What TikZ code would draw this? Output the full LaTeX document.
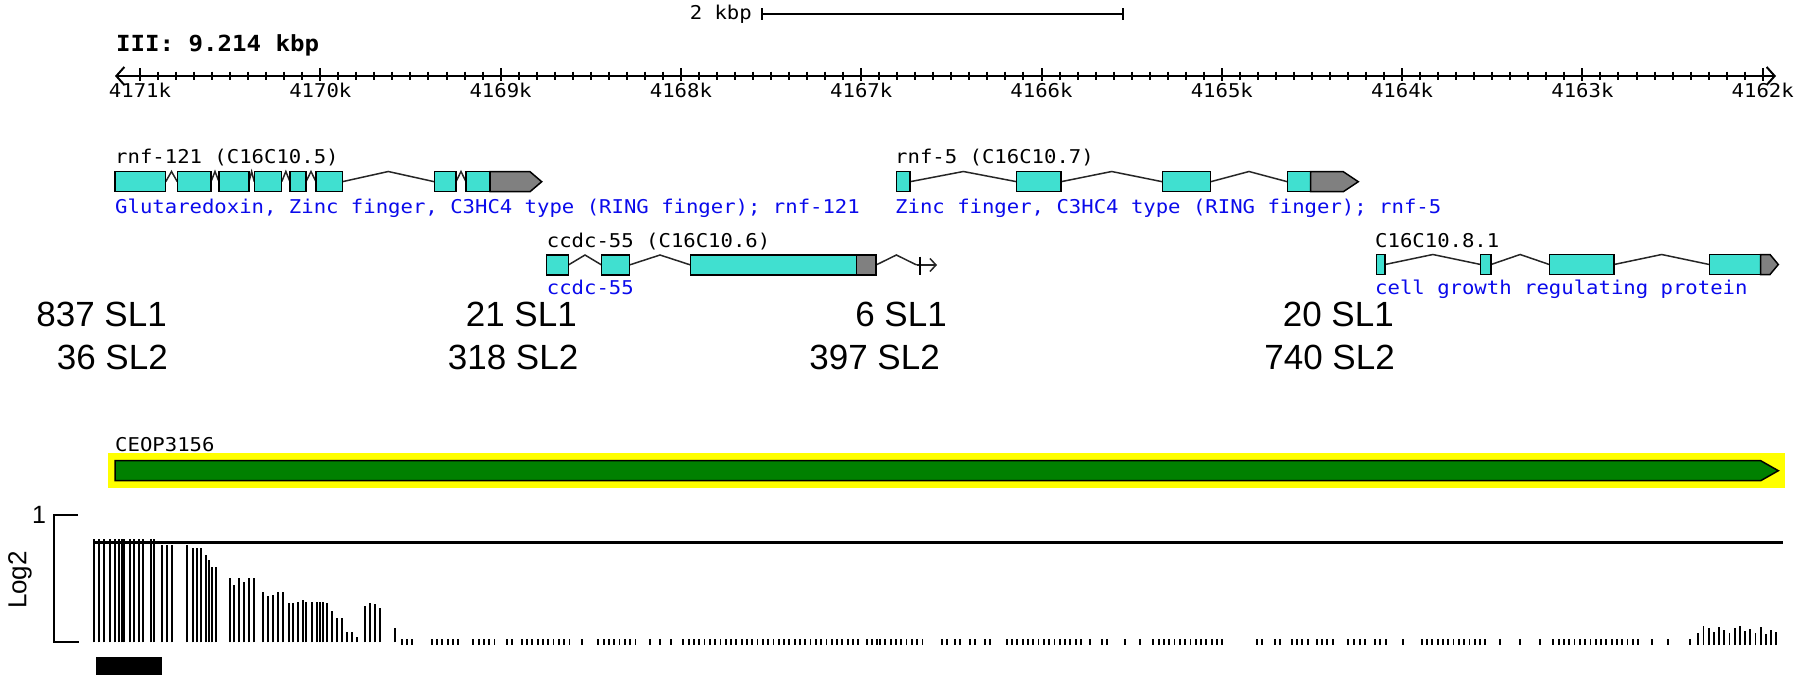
\documentclass[tikz,border=0pt]{standalone}
\usepackage{fontspec}
\setmainfont{Liberation Sans}
\newfontfamily\gbmono[FakeStretch=1.085]{DejaVu Sans Mono}
\usetikzlibrary{arrows.meta}

\definecolor{exoncol}{RGB}{64,224,208}
\definecolor{utrcol}{RGB}{128,128,128}
\definecolor{desccol}{RGB}{10,10,235}
\definecolor{opcol}{RGB}{0,128,0}
\definecolor{hilite}{RGB}{255,255,0}

\tikzset{
    lbl/.style={font=\gbmono\fontsize{19}{23}\selectfont, inner sep=0pt, anchor=base west},
    desc/.style={lbl, text=desccol},
    sl/.style={font=\fontsize{35}{40}\selectfont, inner sep=0pt, anchor=base east},
    axisline/.style={draw=black, line width=2pt},
    exon/.style={draw=black, fill=exoncol, line width=1.5pt},
    utr/.style={draw=black, fill=utrcol, line width=1.5pt},
    intron/.style={draw=black!85, line width=1.5pt},
    operon/.style={draw=black, fill=opcol, line width=1.5pt},
    bar/.style={draw=black, line width=1.8pt},
}

\begin{document}
\begin{tikzpicture}[x=1pt, y=-1pt]
    \useasboundingbox (0,0) rectangle (1800,689);

    % Scale bar
    \coordinate (sbL) at (762,14);
    \coordinate (sbR) at (1122.6,14);
    \node[lbl, anchor=base east] (sbtext) at (752,19) {2 kbp};
    \draw[axisline] (sbL) -- (sbR);
    \draw[axisline] (762,8) -- (762,20);
    \draw[axisline] (1122.6,8) -- (1122.6,20);

    % Ruler
    \node[lbl, font=\gbmono\bfseries\fontsize{22.2}{26}\selectfont] (chrom) at (116,51.7) {III: 9.214 kbp};
    \coordinate (rulerL) at (115,76);
    \coordinate (rulerR) at (1776,76);
    \draw[axisline, {Straight Barb[length=8pt,width=18pt]}-{Straight Barb[length=8pt,width=18pt]}] (rulerL) -- (rulerR);
    \foreach \i in {0,...,90}
        \draw[axisline] (140+18.03*\i,71.5) -- (140+18.03*\i,80);
    \foreach \i/\lab in {0/4171k, 1/4170k, 2/4169k, 3/4168k, 4/4167k, 5/4166k, 6/4165k, 7/4164k, 8/4163k, 9/4162k} {
        \draw[axisline] (140+180.3*\i,68) -- (140+180.3*\i,81);
        \node[lbl, anchor=base] (tick\i) at (140+180.3*\i,97.5) {\lab};
    }

    % Gene rnf-121
    \node[lbl] (g1name) at (115,163.5) {rnf-121 (C16C10.5)};
    \foreach \a/\b in {165.7/177.3, 211/219, 249/254.3, 281.7/290, 306/316, 342.3/434.3, 456/466}
        \draw[intron] (\a,181.7) -- ({(\a+\b)/2},171.5) -- (\b,181.7);
    \foreach \a/\b in {115/165.7, 177.3/211, 219/249, 254.3/281.7, 290/306, 316/342.3, 434.3/456, 466/490}
        \draw[exon] (\a,171.7) rectangle (\b,191.7);
    \draw[utr] (490,171.7) -- (530,171.7) -- (541.7,181.7) -- (530,191.7) -- (490,191.7) -- cycle;
    \node[desc] (g1desc) at (115,213.5) {Glutaredoxin, Zinc finger, C3HC4 type (RING finger); rnf-121};

    % Gene rnf-5
    \node[lbl] (g2name) at (895,163.5) {rnf-5 (C16C10.7)};
    \foreach \a/\b in {910/1016.7, 1061/1162.3, 1210.7/1287.3}
        \draw[intron] (\a,181.7) -- ({(\a+\b)/2},171.5) -- (\b,181.7);
    \foreach \a/\b in {896.7/910, 1016.7/1061, 1162.3/1210.7, 1287.3/1310.7}
        \draw[exon] (\a,171.7) rectangle (\b,191.7);
    \draw[utr] (1310.7,171.7) -- (1343.3,171.7) -- (1358.3,181.7) -- (1343.3,191.7) -- (1310.7,191.7) -- cycle;
    \node[desc] (g2desc) at (895,213.5) {Zinc finger, C3HC4 type (RING finger); rnf-5};

    % Gene ccdc-55
    \node[lbl] (g3name) at (546.7,247) {ccdc-55 (C16C10.6)};
    \foreach \a/\b in {568.3/601.7, 629.3/690.7, 876/916.7}
        \draw[intron] (\a,265) -- ({(\a+\b)/2},255) -- (\b,265);
    \foreach \a/\b in {546.7/568.3, 601.7/629.3, 690.7/856.7}
        \draw[exon] (\a,255) rectangle (\b,275);
    \draw[utr] (856.7,255) rectangle (876,275);
    \coordinate (g3end) at (937,265);
    \draw[intron, -{Straight Barb[length=6pt,width=13pt]}] (916.7,265) -- (g3end);
    \draw[line width=2.2pt] (920,256.5) -- (920,275);
    \node[desc] (g3desc) at (546.7,294) {ccdc-55};

    % Gene C16C10.8.1
    \node[lbl] (g4name) at (1375,247) {C16C10.8.1};
    \foreach \a/\b in {1385/1480.7, 1491/1549.3, 1614/1709.3}
        \draw[intron] (\a,264.5) -- ({(\a+\b)/2},254.5) -- (\b,264.5);
    \foreach \a/\b in {1376.7/1385, 1480.7/1491, 1549.3/1614, 1709.3/1760.7}
        \draw[exon] (\a,254.5) rectangle (\b,274.5);
    \draw[utr] (1760.7,254.5) -- (1770,254.5) -- (1778.3,264.5) -- (1770,274.5) -- (1760.7,274.5) -- cycle;
    \node[desc] (g4desc) at (1375,294) {cell growth regulating protein};

    % SL counts
    \node[sl] (sl1a) at (167,326) {837 SL1};
    \node[sl] (sl1b) at (168,369.5) {36 SL2};
    \node[sl] (sl2a) at (577,326) {21 SL1};
    \node[sl] (sl2b) at (578.5,369.5) {318 SL2};
    \node[sl] (sl3a) at (947,326) {6 SL1};
    \node[sl] (sl3b) at (940,369.5) {397 SL2};
    \node[sl] (sl4a) at (1394,326) {20 SL1};
    \node[sl] (sl4b) at (1395,369.5) {740 SL2};

    % Operon
    \node[lbl] (opname) at (115,451.5) {CEOP3156};
    \fill[hilite] (108.3,453.3) rectangle (1785,487.6);
    \draw[operon] (115,460.7) -- (1760.7,460.7) -- (1778.3,470.7) -- (1760.7,480.7) -- (115,480.7) -- cycle;

    % Coverage track
    \node[sl, font=\fontsize{25}{30}\selectfont, anchor=center] (ymax) at (39,515) {1};
    \node[sl, font=\fontsize{26}{30}\selectfont, anchor=center, rotate=90] (ylab) at (20,580) {Log2};
    \draw[axisline] (78,515) -- (54.3,515) -- (54.3,642.3) -- (79,642.3);
    \foreach \x/\t in {94.3/539.3, 99.3/539.3, 104/539.3, 110/539.3, 115/539.3, 119.3/539.3, 122/539.3, 124.3/539.3,
        130/539.3, 134.3/539.3, 139.3/539.3, 143.3/539.3, 150.7/539.3, 154.3/539.3, 162.3/545, 166.7/545, 172.3/545,
        187.3/545, 193.3/548.3, 197.3/548.3, 201/548.3, 205.7/555, 209.3/560, 212.3/566.7, 215.7/566.7,
        230/577.7, 234.3/585, 239.3/577.7, 244.3/581.7, 249.3/577.7, 254.3/577.7,
        263.3/592.3, 268.3/595.7, 272.7/595, 277.7/592.3, 283.3/592.3,
        289.3/603.3, 293.3/603.3, 297.7/601.7, 302.7/600, 306/601.7, 311.7/602.3, 316.7/602.3, 320/602.3, 323.3/602.3, 327.3/603.3,
        332.3/610.7, 336.7/618.3, 341.7/618.3, 346.7/631.7, 351.7/631.7, 356.7/636.7,
        365/606, 370/603.3, 375/604, 380/608.3, 395/628.3}
        \draw[bar] (\x,642.3) -- (\x,\t);
    \foreach \a/\n in {401.7/3, 431.7/6, 473.3/5, 506.7/2, 521.7/10, 581.7/1, 598.3/8, 650/1, 660/1, 670.7/1,
        683.3/34, 866.7/3, 880/9, 941.7/2, 955/2, 970/2, 985/2, 1006.7/15, 1090/1, 1101.7/2, 1125/1, 1140/1,
        1153.3/14, 1256.7/2, 1275/2, 1291.7/4, 1316.7/4, 1348.3/2, 1360/2, 1375/3, 1403.3/1, 1421.7/13,
        1500/1, 1520/1, 1540/1, 1553.3/17, 1651.7/1, 1668.3/1, 1690/1}
        \foreach \k in {1,...,\n}
            \draw[bar] (\a+5.3*\k-5.3,639) -- (\a+5.3*\k-5.3,645);
    \foreach \t [count=\k] in {633,626,628,632,627,630,633,628,626,631,629,633,627,634,630,632}
        \draw[bar] (1693.1+5.2*\k,645) -- (1693.1+5.2*\k,\t);
    \draw[axisline, line width=2.5pt] (94,542.7) -- (1782.7,542.7);
    \fill (96,656.7) rectangle (161.7,675);
\end{tikzpicture}
\end{document}
